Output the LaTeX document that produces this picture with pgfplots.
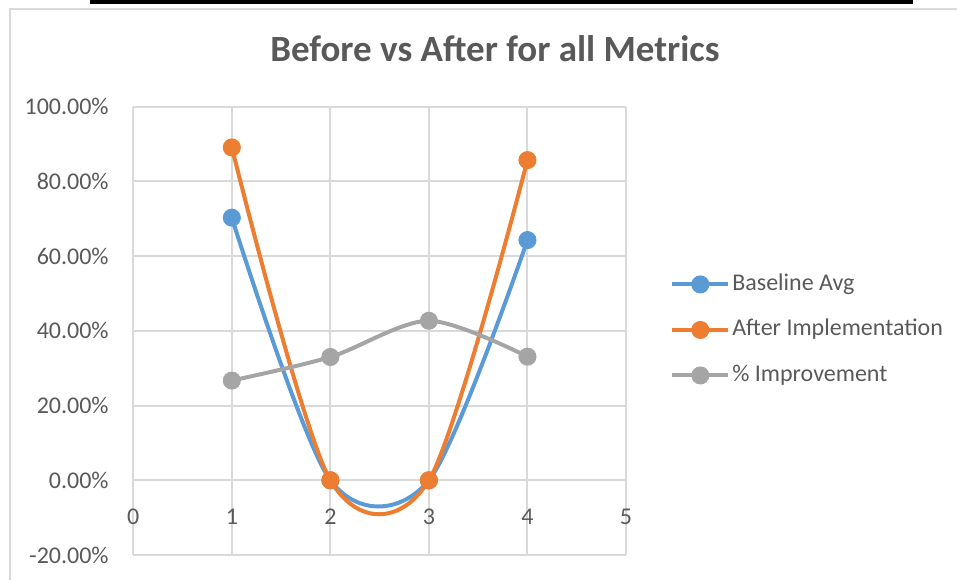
\documentclass[border=0pt]{standalone}
\usepackage{pgfplots}
\pgfplotsset{compat=1.18}
\usepackage{fontspec}
\setmainfont{Carlito}

\definecolor{txtgray}{HTML}{595959}
\definecolor{gridgray}{HTML}{D9D9D9}
\definecolor{sblue}{HTML}{5B9BD5}
\definecolor{sorange}{HTML}{ED7D31}
\definecolor{sgray}{HTML}{A5A5A5}

\begin{document}
\begin{tikzpicture}
\path[use as bounding box] (0,0) rectangle (478.5pt,290pt);
% chart frame and the rule above it
\draw[gridgray, line width=1pt] (5pt,0pt) -- (5pt,285.5pt) -- (478.5pt,285.5pt);
\fill[black] (45pt,288.2pt) rectangle (456.5pt,290pt);
\node[font=\bfseries\fontsize{18.5}{22}\selectfont, text=txtgray, anchor=base]
  at (247.5pt,259pt) {Before vs After for all Metrics};

\begin{axis}[
  at={(66.65pt,12.5pt)}, anchor=south west,
  scale only axis, width=246.35pt, height=224.15pt,
  xmin=0, xmax=5, ymin=-20, ymax=100,
  axis lines=middle,
  axis line style={-, gridgray, line width=1pt},
  grid=major,
  major grid style={gridgray, line width=1pt},
  xtick={0,1,2,3,4,5},
  xticklabels={0,1,2,3,4,5},
  ytick={-20,0,20,40,60,80,100},
  yticklabels={-20.00\%,0.00\%,20.00\%,40.00\%,60.00\%,80.00\%,100.00\%},
  hide obscured x ticks=false,
  hide obscured y ticks=false,
  tick style={draw=none},
  ticklabel style={font=\fontsize{12}{14}\selectfont, text=txtgray},
  xticklabel style={anchor=north, inner sep=0pt, yshift=-12pt},
  yticklabel style={anchor=east, inner sep=0pt, xshift=-10pt},
  clip=false,
  legend style={
    at={(axis description cs:1.077,0.502)}, anchor=west,
    draw=none, fill=none,
    font=\fontsize{12}{14}\selectfont, text=txtgray,
    nodes={text height=8.5pt, text depth=2.5pt, inner ysep=1pt, inner xsep=1pt},
    row sep=9.75pt,
  },
  legend cell align=left,
  legend image code/.code={
    \draw[#1, mark=none] (0pt,0pt) -- (28pt,0pt);
    \draw[#1, only marks] plot coordinates {(14pt,0pt)};
  },
]
\addplot[sblue, line width=2pt, smooth, tension=0.5, mark=*, mark size=3.5pt,
  mark options={solid, fill=sblue, draw=sblue}]
  coordinates {(1,70.3) (2,0) (3,0) (4,64.3)};
\addlegendentry{Baseline Avg}
\addplot[sorange, line width=2pt, smooth, tension=0.5, mark=*, mark size=3.5pt,
  mark options={solid, fill=sorange, draw=sorange}]
  coordinates {(1,89.1) (2,0) (3,0) (4,85.7)};
\addlegendentry{After Implementation}
\addplot[sgray, line width=2pt, smooth, tension=0.5, mark=*, mark size=3.5pt,
  mark options={solid, fill=sgray, draw=sgray}]
  coordinates {(1,26.7) (2,33.0) (3,42.7) (4,33.1)};
\addlegendentry{\% Improvement}
\end{axis}
\end{tikzpicture}
\end{document}
